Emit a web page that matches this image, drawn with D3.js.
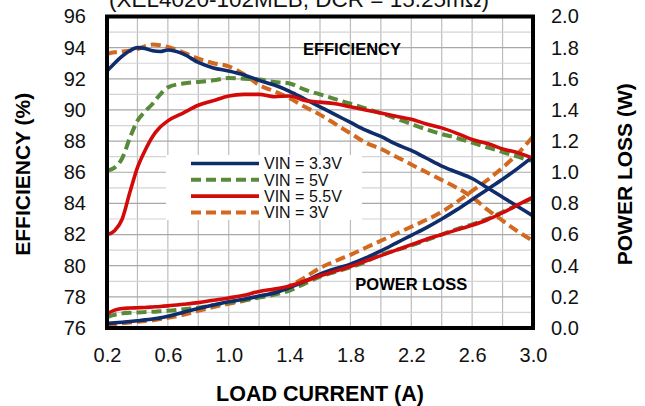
<!DOCTYPE html>
<html lang="en">
<head>
<meta charset="UTF-8">
<title>XEL4020-102MEB efficiency and power loss</title>
<script src="https://cdn.jsdelivr.net/npm/d3@7"></script>
<style>
  body { margin: 0; background: #fff; }
  svg text { font-family: Arial, "Liberation Sans", sans-serif; }
</style>
</head>
<body>
<div id="chart"></div>
<script>
// load current (A), shared by every series
const current = [0.2, 0.25, 0.3, 0.35, 0.4, 0.45, 0.5, 0.55, 0.6, 0.7, 0.8, 0.9, 1.0,
  1.1, 1.2, 1.3, 1.4, 1.5, 1.6, 1.7, 1.8, 1.9, 2.0, 2.1, 2.2, 2.3, 2.4, 2.5, 2.6, 2.7, 2.8, 2.9, 3.0];

// efficiency (%)
const eff33 = [92.5, 93.0, 93.45, 93.8, 94.0, 93.95, 93.8, 93.75, 93.85, 93.6, 93.05, 92.7, 92.5,
  92.25, 91.9, 91.6, 91.2, 90.7, 90.2, 89.7, 89.2, 88.7, 88.3, 87.8, 87.4, 86.9, 86.4, 86.0, 85.6, 85.0, 84.4, 83.8, 83.2];
const eff5 = [86.1, 86.3, 86.9, 88.2, 89.3, 89.9, 90.4, 91.0, 91.45, 91.7, 91.8, 91.9, 92.05,
  92.0, 91.95, 91.8, 91.7, 91.3, 91.0, 90.7, 90.4, 90.1, 89.8, 89.45, 89.1, 88.75, 88.45, 88.2, 87.9, 87.6, 87.3, 87.0, 86.7];
const eff55 = [82.0, 82.25, 83.0, 84.7, 86.3, 87.4, 88.3, 88.9, 89.3, 89.8, 90.3, 90.6, 90.9,
  91.0, 91.0, 90.85, 90.9, 90.6, 90.5, 90.4, 90.2, 90.0, 89.8, 89.6, 89.4, 89.1, 88.85, 88.5, 88.1, 87.85, 87.5, 87.25, 86.9];
const eff3 = [93.6, 93.7, 93.75, 93.8, 93.9, 94.1, 94.2, 94.15, 94.05, 93.7, 93.3, 93.0, 92.8,
  92.3, 91.6, 91.2, 90.75, 90.2, 89.7, 89.1, 88.5, 87.9, 87.5, 87.0, 86.5, 86.0, 85.5, 85.0, 84.4, 83.6, 82.9, 82.2, 81.6];

// power loss (W)
const loss33 = [0.03, 0.033, 0.037, 0.042, 0.047, 0.052, 0.058, 0.065, 0.075, 0.10, 0.125, 0.148, 0.168,
  0.185, 0.205, 0.225, 0.26, 0.30, 0.345, 0.38, 0.41, 0.45, 0.495, 0.545, 0.595, 0.645, 0.70, 0.76, 0.825, 0.89, 0.955, 1.025, 1.10];
const loss5 = [0.07, 0.085, 0.094, 0.098, 0.10, 0.102, 0.104, 0.107, 0.11, 0.12, 0.13, 0.147, 0.163,
  0.178, 0.195, 0.215, 0.24, 0.285, 0.33, 0.36, 0.39, 0.425, 0.47, 0.50, 0.53, 0.565, 0.60, 0.635, 0.665, 0.70, 0.745, 0.79, 0.835];
const loss55 = [0.09, 0.115, 0.125, 0.128, 0.13, 0.132, 0.135, 0.138, 0.142, 0.152, 0.163, 0.178, 0.193,
  0.21, 0.235, 0.25, 0.27, 0.30, 0.335, 0.365, 0.395, 0.43, 0.465, 0.50, 0.535, 0.57, 0.60, 0.63, 0.66, 0.695, 0.74, 0.79, 0.84];
const loss3 = [0.02, 0.025, 0.03, 0.035, 0.04, 0.045, 0.05, 0.057, 0.065, 0.085, 0.11, 0.135, 0.155,
  0.175, 0.20, 0.23, 0.27, 0.325, 0.385, 0.43, 0.47, 0.515, 0.56, 0.605, 0.65, 0.695, 0.745, 0.81, 0.88, 0.95, 1.03, 1.12, 1.23];

const seriesNames = ["VIN = 3.3V", "VIN = 5V", "VIN = 5.5V", "VIN = 3V"];
const xTicks = [0.2, 0.6, 1.0, 1.4, 1.8, 2.2, 2.6, 3.0];
const effTicks = [76, 78, 80, 82, 84, 86, 88, 90, 92, 94, 96];
const lossTicks = [0.0, 0.2, 0.4, 0.6, 0.8, 1.0, 1.2, 1.4, 1.6, 1.8, 2.0];

const W = 645, H = 406;
const margin = {top: 16.5, right: 112, bottom: 78, left: 107},
    width = W - margin.left - margin.right,
    height = H - margin.top - margin.bottom;

const styles = [
  {color: "#0f2c6b", dash: null},
  {color: "#588a3a", dash: "10,5"},
  {color: "#d20a0a", dash: null},
  {color: "#d2691e", dash: "10,5"}
];

const svg = d3.select("#chart").append("svg")
    .attr("width", W).attr("height", H);
const g = svg.append("g").attr("transform", `translate(${margin.left},${margin.top})`);

const x = d3.scaleLinear().domain([0.2, 3.0]).range([0, width]);
const yEff = d3.scaleLinear().domain([76, 96]).range([height, 0]);
const yLoss = d3.scaleLinear().domain([0, 2.0]).range([height, 0]);

// grid: vertical every 0.2 A, horizontal every 1 %
g.append("g").selectAll("line")
  .data(d3.range(0.2, 3.01, 0.2))
  .join("line")
    .attr("x1", d => x(d)).attr("x2", d => x(d))
    .attr("y1", 0).attr("y2", height)
    .attr("stroke", "#bdbdbd").attr("stroke-width", 1.2);
g.append("g").selectAll("line")
  .data(d3.range(76, 96.01, 1))
  .join("line")
    .attr("x1", 0).attr("x2", width)
    .attr("y1", d => yEff(d)).attr("y2", d => yEff(d))
    .attr("stroke", d => (Math.round(d) % 2 === 0) ? "#a8a8a8" : "#d4d4d4")
    .attr("stroke-width", 1.2);

// legend box (drawn under the lines like the original)
const legend = g.append("g").attr("transform", `translate(${166 - margin.left},${155 - margin.top})`);
legend.append("rect").attr("width", 196).attr("height", 65).attr("fill", "#fff");

// lines
const effSets = [eff33, eff5, eff55, eff3];
const lossSets = [loss33, loss5, loss55, loss3];
const lineEff = d3.line().x(d => x(d[0])).y(d => yEff(d[1])).curve(d3.curveMonotoneX);
const lineLoss = d3.line().x(d => x(d[0])).y(d => yLoss(d[1])).curve(d3.curveMonotoneX);

[3, 1, 0, 2].forEach(i => {
  const s = styles[i];
  [[effSets[i], lineEff], [lossSets[i], lineLoss]].forEach(([vals, gen]) => {
    g.append("path")
      .datum(current.map((c, k) => [c, vals[k]]))
      .attr("fill", "none")
      .attr("stroke", s.color)
      .attr("stroke-width", s.dash ? 4 : 3.6)
      .attr("stroke-dasharray", s.dash)
      .attr("stroke-linejoin", "round")
      .attr("d", gen);
  });
});

// legend entries
seriesNames.forEach((name, i) => {
  const ly = 8.5 + i * 16.3;
  legend.append("line")
    .attr("x1", 25).attr("x2", 93).attr("y1", ly).attr("y2", ly)
    .attr("stroke", styles[i].color)
    .attr("stroke-width", styles[i].dash ? 4 : 3.6)
    .attr("stroke-dasharray", styles[i].dash);
  legend.append("text")
    .attr("x", 98).attr("y", ly).attr("dy", "0.36em")
    .style("font-size", "16px").attr("fill", "#111")
    .text(name);
});

// plot frame
g.append("rect")
  .attr("width", width).attr("height", height)
  .attr("fill", "none").attr("stroke", "#000").attr("stroke-width", 4);

// axes
const axX = g.append("g")
  .attr("transform", `translate(0,${height})`)
  .call(d3.axisBottom(x).tickValues(xTicks).tickFormat(d3.format(".1f")).tickSize(0).tickPadding(20));
const axL = g.append("g")
  .call(d3.axisLeft(yEff).tickValues(effTicks).tickFormat(d3.format("d")).tickSize(0).tickPadding(21));
const axR = g.append("g")
  .attr("transform", `translate(${width},0)`)
  .call(d3.axisRight(yLoss).tickValues(lossTicks).tickFormat(d3.format(".1f")).tickSize(0).tickPadding(18));
[axX, axL, axR].forEach(a => {
  a.select(".domain").remove();
  a.selectAll("text").style("font-size", "20px").attr("fill", "#111")
    .style("font-family", "Arial, 'Liberation Sans', sans-serif");
});

// annotations
g.append("text").attr("x", x(1.81)).attr("y", yEff(94) + 7)
  .attr("text-anchor", "middle").style("font-size", "16.5px").style("font-weight", "bold")
  .text("EFFICIENCY");
g.append("text").attr("x", x(2.2)).attr("y", yEff(76) - 38)
  .attr("text-anchor", "middle").style("font-size", "16.5px").style("font-weight", "bold")
  .text("POWER LOSS");

// titles (top one is clipped by the frame edge in the original too)
svg.append("text").attr("x", 299).attr("y", 7)
  .attr("text-anchor", "middle").style("font-size", "22.5px").attr("fill", "#111")
  .text("(XEL4020-102MEB, DCR = 15.25m\u03A9)");
svg.append("text").attr("x", margin.left + width / 2).attr("y", 401)
  .attr("text-anchor", "middle").style("font-size", "21.5px").style("font-weight", "bold")
  .text("LOAD CURRENT (A)");
svg.append("text")
  .attr("transform", `translate(30,${margin.top + height / 2 + 2}) rotate(-90)`)
  .attr("text-anchor", "middle").style("font-size", "21px").style("font-weight", "bold")
  .text("EFFICIENCY (%)");
svg.append("text")
  .attr("transform", `translate(632,${margin.top + height / 2 + 2}) rotate(-90)`)
  .attr("text-anchor", "middle").style("font-size", "21px").style("font-weight", "bold")
  .text("POWER LOSS (W)");
</script>
</body>
</html>
